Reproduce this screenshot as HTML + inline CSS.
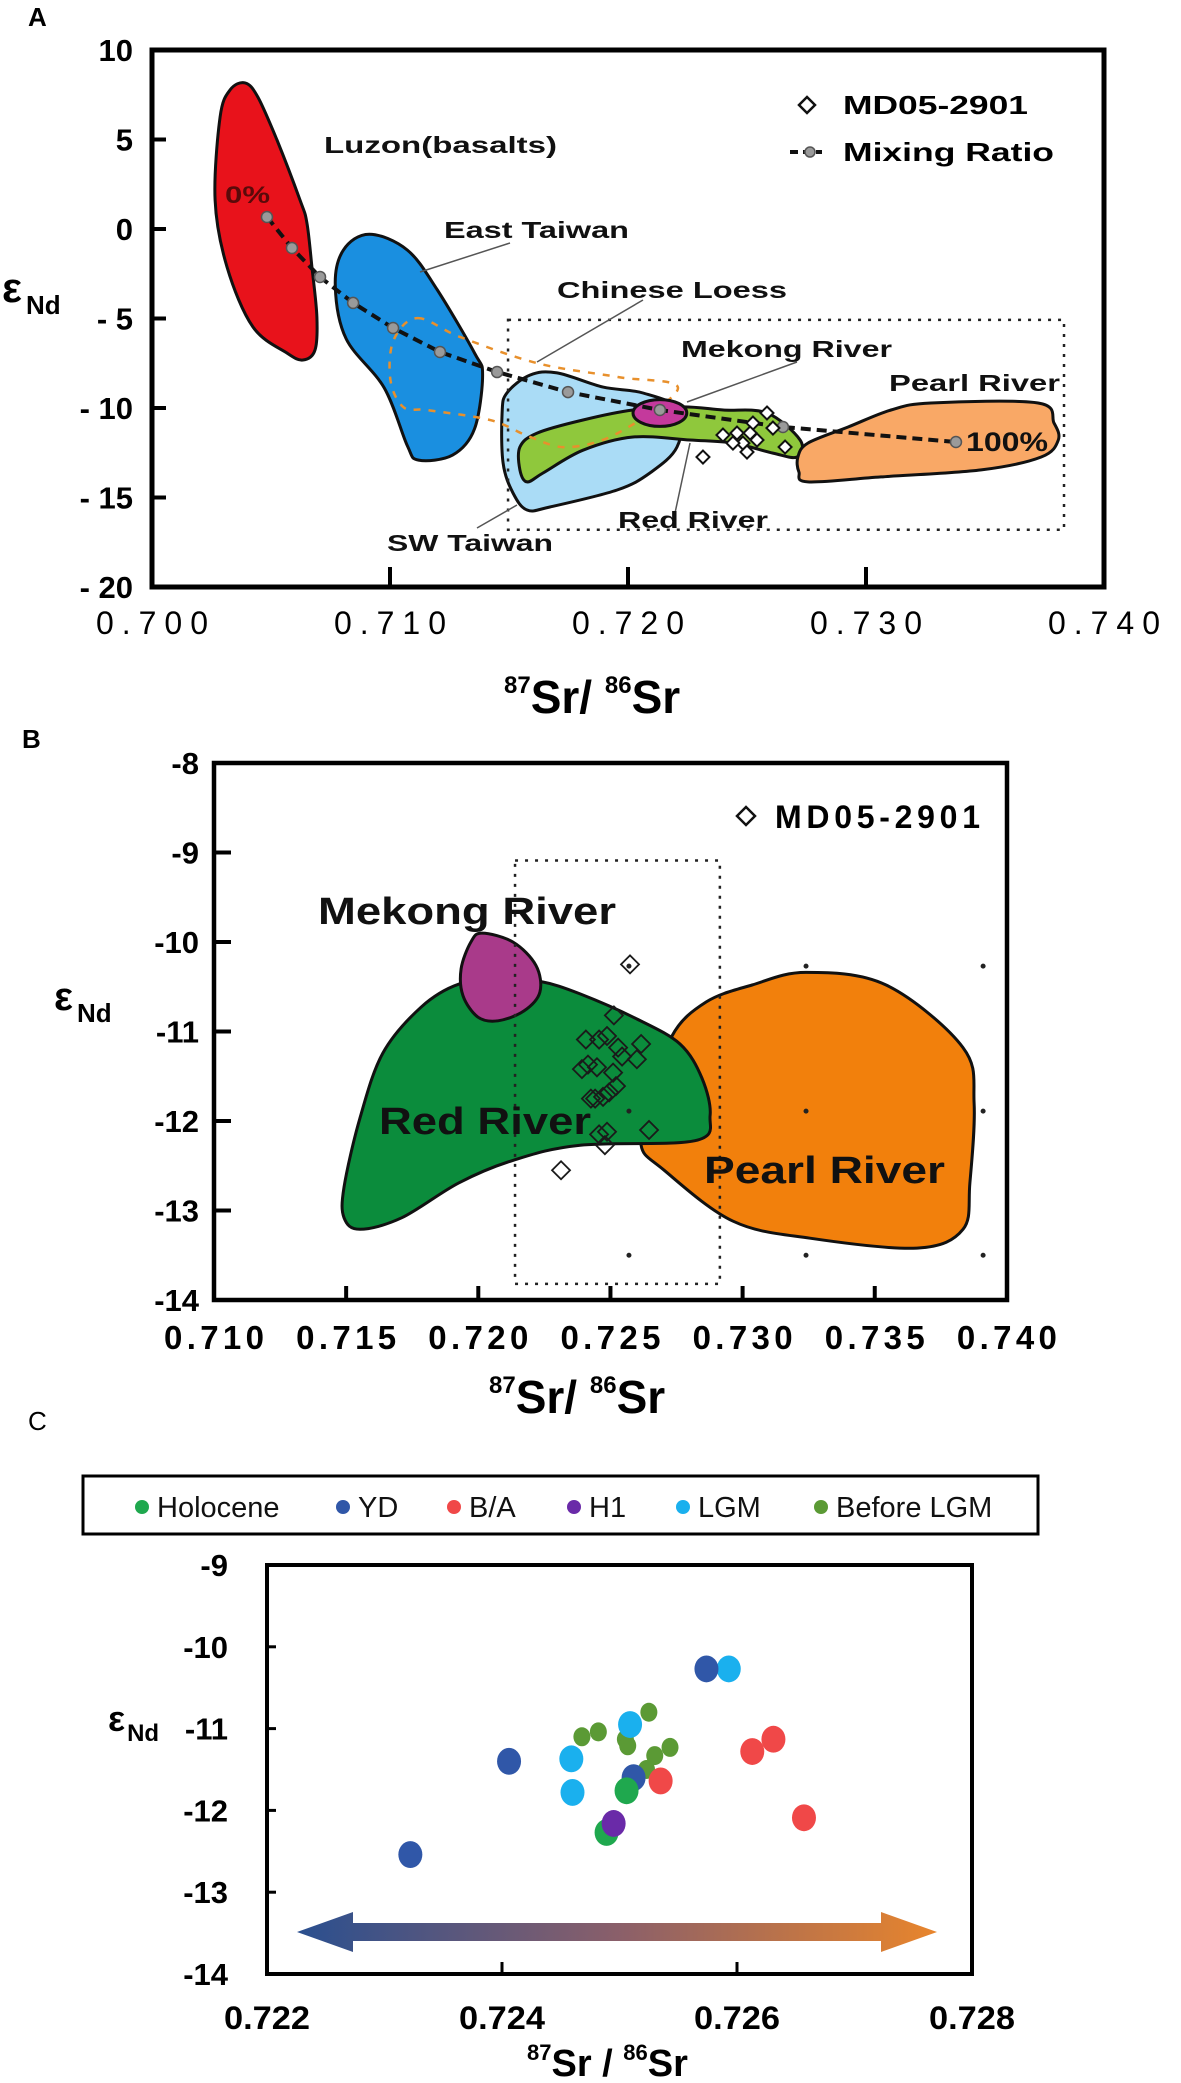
<!DOCTYPE html>
<html><head><meta charset="utf-8"><style>
html,body{margin:0;padding:0;background:#fff;}
svg{display:block;font-family:"Liberation Sans",Arial,sans-serif;}
</style></head><body>
<svg id="fig" xmlns="http://www.w3.org/2000/svg" width="1181" height="2083" viewBox="0 0 1181 2083">
<rect x="0" y="0" width="1181" height="2083" fill="#fff"/>
<text x="28" y="26" font-size="26" font-weight="bold">A</text>
<text x="22" y="748" font-size="26" font-weight="bold">B</text>
<text x="28" y="1430" font-size="26">C</text>
<g id="gA"></g>
<g id="gB"></g>
<g id="gC"></g>
</svg>
<script>
// ---------- Panel A data ----------
const aXTicks = [0.700, 0.710, 0.720, 0.730, 0.740];
const aXTickLabels = ["0.700","0.710","0.720","0.730","0.740"];
const aYTicks = [10, 5, 0, -5, -10, -15, -20];
const aYTickLabels = ["10","5","0","- 5","- 10","- 15","- 20"];
const aLuzonSr = [0.70391,0.70445,0.70525,0.70622,0.70651,0.70672,0.70693,0.70685,0.70634,0.70567,0.70424,0.70315,0.70265,0.70286,0.70328];
const aLuzonNd = [8.16,7.37,4.97,1.62,0.34,-2.12,-4.92,-6.76,-7.32,-6.93,-5.47,-2.12,1.62,6.26,7.77];
const aEastTwSr = [0.70913,0.71073,0.71199,0.71355,0.71389,0.71355,0.71263,0.71120,0.71073,0.70976,0.70816,0.70770,0.70804];
const aEastTwNd = [-0.29,-1.18,-3.41,-6.93,-8.16,-11.17,-12.63,-12.91,-12.12,-8.88,-6.14,-3.18,-1.18];
const aSwTwSr = [0.71491,0.71588,0.71702,0.71895,0.72063,0.72218,0.72206,0.72092,0.71954,0.71672,0.71576,0.71517,0.71475,0.71471];
const aSwTwNd = [-9.16,-8.16,-8.04,-8.83,-9.16,-10.11,-12.18,-13.63,-14.58,-15.53,-15.70,-14.75,-13.07,-10.28];
const aRedSr = [0.71546,0.71618,0.71811,0.72021,0.72231,0.72400,0.72584,0.72723,0.72710,0.72609,0.72441,0.72260,0.72021,0.71811,0.71643,0.71576,0.71546];
const aRedNd = [-12.18,-11.40,-10.67,-10.11,-9.94,-10.11,-10.28,-11.79,-12.74,-12.52,-11.96,-11.79,-11.62,-12.36,-13.63,-14.13,-13.46];
const aLoessSr = [0.71115,0.71296,0.71620,0.71957,0.72210,0.71957,0.71747,0.71591,0.71423,0.71158,0.71057,0.71002,0.71015];
const aLoessNd = [-4.98,-6.04,-7.50,-8.27,-8.89,-11.40,-12.19,-11.63,-10.68,-10.12,-9.96,-8.45,-6.21];
const aMekong = [0.72134, -10.28, 0.00113, 0.75];
const aPearlSr = [0.72714,0.72756,0.72925,0.73105,0.73273,0.73723,0.73790,0.73808,0.73736,0.73484,0.73063,0.72756,0.72718];
const aPearlNd = [-12.74,-11.96,-11.06,-10.11,-9.72,-9.72,-10.84,-11.79,-12.74,-13.46,-13.85,-14.13,-13.57];
const aMixSr = [0.70483,0.70588,0.70706,0.70845,0.71013,0.71210,0.71450,0.71748,0.72134,0.72651,0.73378];
const aMixNd = [0.67,-1.06,-2.68,-4.13,-5.53,-6.87,-7.99,-9.11,-10.11,-11.06,-11.90];
const aMdSr = [0.72584,0.72525,0.72609,0.72399,0.72458,0.72513,0.72483,0.72542,0.72441,0.72500,0.72660,0.72315];
const aMdNd = [-10.28,-10.84,-11.12,-11.51,-11.40,-11.40,-11.96,-11.79,-11.96,-12.46,-12.18,-12.74];
const aBox = [0.71496, -5.08, 0.73832, -16.8];

// ---------- Panel B data ----------
const bXTicks = [0.710,0.715,0.720,0.725,0.730,0.735,0.740];
const bXTickLabels = ["0.710","0.715","0.720","0.725","0.730","0.735","0.740"];
const bYTicks = [-8,-9,-10,-11,-12,-13,-14];
const bYTickLabels = ["-8","-9","-10","-11","-12","-13","-14"];
const bPearlSr = [0.72733,0.72862,0.73036,0.73240,0.73543,0.73834,0.73876,0.73860,0.73834,0.73660,0.73255,0.72964,0.72703,0.72616,0.72661];
const bPearlNd = [-11.05,-10.67,-10.48,-10.34,-10.48,-11.18,-11.80,-12.69,-13.21,-13.42,-13.31,-13.12,-12.55,-12.27,-11.80];
const bRedSr = [0.71927,0.71783,0.71639,0.71552,0.71492,0.71492,0.71552,0.71711,0.71927,0.72131,0.72385,0.72820,0.72877,0.72846,0.72763,0.72600,0.72385,0.72233,0.72082];
const bRedNd = [-10.47,-10.73,-11.24,-11.97,-12.74,-13.08,-13.21,-13.08,-12.69,-12.44,-12.27,-12.22,-11.94,-11.52,-11.14,-10.86,-10.58,-10.44,-10.42];
const bMekongSr = [0.72014,0.72131,0.72218,0.72233,0.72173,0.72075,0.71999,0.71942,0.71935,0.71972];
const bMekongNd = [-9.90,-10.00,-10.26,-10.56,-10.77,-10.88,-10.84,-10.60,-10.30,-10.00];
const bMdSr = [0.72574,0.72513,0.72487,0.72457,0.72529,0.72616,0.72544,0.72600,0.72415,0.72449,0.72510,0.72521,0.72495,0.72442,0.72472,0.72646,0.72487,0.72479,0.72407,0.72392,0.72426,0.72457,0.72313];
const bMdNd = [-10.25,-10.82,-11.05,-11.09,-11.18,-11.14,-11.28,-11.31,-11.37,-11.40,-11.46,-11.61,-11.68,-11.75,-11.73,-12.10,-12.12,-12.27,-11.09,-11.42,-11.75,-12.15,-12.55];
const bGridSr = [0.7257, 0.7324, 0.7391];
const bGridNd = [-10.27, -11.89, -13.5];
const bBox = [0.72139, -9.09, 0.72914, -13.82];

// ---------- Panel C data ----------
const cXTicks = [0.722,0.724,0.726,0.728];
const cXTickLabels = ["0.722","0.724","0.726","0.728"];
const cYTicks = [-9,-10,-11,-12,-13,-14];
const cYTickLabels = ["-9","-10","-11","-12","-13","-14"];
const cSeriesNames = ["Holocene","YD","B/A","H1","LGM","Before LGM"];
const cHoloSr = [0.72489,0.72506];
const cHoloNd = [-12.27,-11.76];
const cYdSr = [0.72322,0.72406,0.72574,0.72512];
const cYdNd = [-12.54,-11.40,-10.27,-11.60];
const cBaSr = [0.72631,0.72613,0.72535,0.72657];
const cBaNd = [-11.13,-11.28,-11.64,-12.09];
const cH1Sr = [0.72495];
const cH1Nd = [-12.16];
const cLgmSr = [0.72593,0.72509,0.72459,0.72460];
const cLgmNd = [-10.27,-10.95,-11.37,-11.78];
const cBlgmSr = [0.72525,0.72482,0.72468,0.72505,0.72507,0.72543,0.72530,0.72523];
const cBlgmNd = [-10.80,-11.04,-11.10,-11.13,-11.21,-11.23,-11.33,-11.50];

const NS = "http://www.w3.org/2000/svg";
function mk(tag, attrs, parent){
  const e = document.createElementNS(NS, tag);
  for (const k in attrs) e.setAttribute(k, attrs[k]);
  parent.appendChild(e);
  return e;
}
function smooth(pts){
  const n = pts.length; let d = "M" + pts[0][0].toFixed(1) + "," + pts[0][1].toFixed(1);
  for (let i=0;i<n;i++){
    const p0=pts[(i-1+n)%n], p1=pts[i], p2=pts[(i+1)%n], p3=pts[(i+2)%n];
    const c1=[p1[0]+(p2[0]-p0[0])/6, p1[1]+(p2[1]-p0[1])/6];
    const c2=[p2[0]-(p3[0]-p1[0])/6, p2[1]-(p3[1]-p1[1])/6];
    d += " C"+c1[0].toFixed(1)+","+c1[1].toFixed(1)+" "+c2[0].toFixed(1)+","+c2[1].toFixed(1)+" "+p2[0].toFixed(1)+","+p2[1].toFixed(1);
  }
  return d + "Z";
}
function pts(xs, ys, fx, fy){ return xs.map((v,i)=>[fx(v), fy(ys[i])]); }
function txt(parent, x, y, s, size, opts){
  const t = mk("text", {x:x, y:y, "font-size":size}, parent);
  if (opts) for (const k in opts) t.setAttribute(k, opts[k]);
  t.textContent = s;
  return t;
}
function diamond(cx, cy, r){ return "M"+cx+","+(cy-r)+" L"+(cx+r)+","+cy+" L"+cx+","+(cy+r)+" L"+(cx-r)+","+cy+"Z"; }

// ================= PANEL A =================
const gA = document.getElementById("gA");
const ax = v => 152 + (v - 0.700) * 23800;
const ay = e => 50 + (10 - e) * 17.9;
let el;
el = mk("path", {d: smooth(pts(aLuzonSr,aLuzonNd,ax,ay)), fill:"#e8121b", stroke:"#111", "stroke-width":3}, gA);


el = mk("path", {d: smooth(pts(aEastTwSr,aEastTwNd,ax,ay)), fill:"#1a8fe0", stroke:"#111", "stroke-width":3}, gA);


el = mk("path", {d: smooth(pts(aSwTwSr,aSwTwNd,ax,ay)), fill:"#aadcf6", stroke:"#111", "stroke-width":3}, gA);


el = mk("path", {d: smooth(pts(aRedSr,aRedNd,ax,ay)), fill:"#8fc83c", stroke:"#111", "stroke-width":3}, gA);


el = mk("path", {d: smooth(pts(aLoessSr,aLoessNd,ax,ay)), fill:"none", stroke:"#e8902c", "stroke-width":2.5, "stroke-dasharray":"7 8"}, gA);


el = mk("ellipse", {cx: ax(aMekong[0]), cy: ay(aMekong[1]), rx: aMekong[2]*23800, ry: aMekong[3]*17.9, fill:"#c4399c", stroke:"#111", "stroke-width":3}, gA);


el = mk("path", {d: smooth(pts(aPearlSr,aPearlNd,ax,ay)), fill:"#f9a866", stroke:"#111", "stroke-width":3}, gA);


el = mk("rect", {x: ax(aBox[0]), y: ay(aBox[1]), width: ax(aBox[2])-ax(aBox[0]), height: ay(aBox[3])-ay(aBox[1]), fill:"none", stroke:"#222", "stroke-width":2.5, "stroke-dasharray":"3 7"}, gA);


el = mk("path", {d: "M" + pts(aMixSr,aMixNd,ax,ay).map(p=>p[0].toFixed(1)+","+p[1].toFixed(1)).join(" L"), fill:"none", stroke:"#111", "stroke-width":4, "stroke-dasharray":"10 6"}, gA);


aMixSr.forEach((v,i)=>{
  const c = mk("circle", {cx: ax(v), cy: ay(aMixNd[i]), r:5.5, fill:"#9a9a9a", stroke:"#555", "stroke-width":1.5}, gA);
  
  
});
aMdSr.forEach((v,i)=>{
  const d = mk("path", {d: diamond(ax(v), ay(aMdNd[i]), 6.5), fill:"#fff", stroke:"#111", "stroke-width":2}, gA);
  
  
});
[[510,243,420,272],[643,300,537,362],[797,362,687,402],[690,443,675,513],[517,505,477,528]].forEach(l=>{
  const ln = mk("line", {x1:l[0], y1:l[1], x2:l[2], y2:l[3], stroke:"#555", "stroke-width":1.5}, gA);
  
  
});
[["Luzon(basalts)",324,153,233,"luzon-label"],["East Taiwan",444,238,185,"east-taiwan-label"],["Chinese Loess",557,298,230,"chinese-loess-label"],["Mekong River",681,357,211,"mekong-river-label"],["Pearl River",889,391,171,"pearl-river-label"],["Red River",618,528,150,"red-river-label"],["SW Taiwan",387,551,166,"sw-taiwan-label"]].forEach(L=>{
  const t = txt(gA, L[1], L[2], L[0], 23, {"font-weight":"bold", fill:"#111", textLength:L[3], lengthAdjust:"spacingAndGlyphs"});
  
  
});
el = txt(gA, 225, 203, "0%", 24, {"font-weight":"bold", fill:"#5a0a0a", textLength:45, lengthAdjust:"spacingAndGlyphs"});


el = txt(gA, 966, 451, "100%", 27, {"font-weight":"bold", fill:"#111", textLength:82, lengthAdjust:"spacingAndGlyphs"});


el = mk("path", {d: diamond(807,105,8), fill:"#fff", stroke:"#111", "stroke-width":2.5}, gA);


el = txt(gA, 843, 114, "MD05-2901", 26, {"font-weight":"bold", textLength:185, lengthAdjust:"spacingAndGlyphs"});


el = mk("line", {x1:790, y1:152, x2:822, y2:152, stroke:"#111", "stroke-width":4, "stroke-dasharray":"8 5"}, gA);


el = mk("circle", {cx:810, cy:152, r:5, fill:"#9a9a9a", stroke:"#555", "stroke-width":1.5}, gA);


el = txt(gA, 843, 161, "Mixing Ratio", 26, {"font-weight":"bold", textLength:211, lengthAdjust:"spacingAndGlyphs"});


el = mk("rect", {x:152, y:50, width:952, height:537, fill:"none", stroke:"#000", "stroke-width":5}, gA);


aYTicks.forEach((v,i)=>{
  const y = ay(v);
  const tk = mk("line", {x1:152, y1:y, x2:166, y2:y, stroke:"#000", "stroke-width":4}, gA);
  
  
  const t = txt(gA, 133, y+11, aYTickLabels[i], 31, {"font-weight":"bold", "text-anchor":"end"});
  
  
});
aXTicks.forEach((v,i)=>{
  const x = ax(v);
  if (i>0 && i<aXTicks.length-1){
    const tk = mk("line", {x1:x, y1:587, x2:x, y2:567, stroke:"#000", "stroke-width":4}, gA);
    
    
  }
  const t = txt(gA, x, 634, aXTickLabels[i], 32, {"text-anchor":"middle", textLength:112});
  
  
});
el = mk("text", {x:2, y:302, "font-size":42, "font-weight":"bold"}, gA);
el.innerHTML = 'ε<tspan font-size="26" dx="4" dy="12">Nd</tspan>';


el = mk("text", {x:504, y:713, "font-size":46, "font-weight":"bold"}, gA);
el.innerHTML = '<tspan font-size="24" dy="-20">87</tspan><tspan dy="20">Sr/ </tspan><tspan font-size="24" dy="-20">86</tspan><tspan dy="20">Sr</tspan>';



// ================= PANEL B =================
const gB = document.getElementById("gB");
const bx = v => 214 + (v - 0.710) * 26430;
const by = e => 763 + (-8 - e) * 89.5;
el = mk("path", {d: smooth(pts(bPearlSr,bPearlNd,bx,by)), fill:"#f2800c", stroke:"#111", "stroke-width":3}, gB);


el = mk("path", {d: smooth(pts(bRedSr,bRedNd,bx,by)), fill:"#0b8c3c", stroke:"#111", "stroke-width":3}, gB);


el = mk("path", {d: smooth(pts(bMekongSr,bMekongNd,bx,by)), fill:"#a93a8a", stroke:"#111", "stroke-width":3}, gB);


bGridSr.forEach(v=>{ bGridNd.forEach(e=>{
  const d = mk("circle", {cx:bx(v), cy:by(e), r:2.5, fill:"#222"}, gB);
  
  
});});
el = mk("rect", {x: bx(bBox[0]), y: by(bBox[1]), width: bx(bBox[2])-bx(bBox[0]), height: by(bBox[3])-by(bBox[1]), fill:"none", stroke:"#222", "stroke-width":2.5, "stroke-dasharray":"3 7"}, gB);


bMdSr.forEach((v,i)=>{
  const d = mk("path", {d: diamond(bx(v), by(bMdNd[i]), 9), fill:"none", stroke:"#1a1a1a", "stroke-width":1.8}, gB);
  
  
});
[["Mekong River",318,924,298,"mekong-river-label"],["Red River",379,1134,212,"red-river-label"],["Pearl River",704,1183,241,"pearl-river-label"]].forEach(L=>{
  const t = txt(gB, L[1], L[2], L[0], 38, {"font-weight":"bold", fill:"#111", textLength:L[3], lengthAdjust:"spacingAndGlyphs"});
  
  
});
el = mk("path", {d: diamond(746,816,9), fill:"#fff", stroke:"#111", "stroke-width":2.5}, gB);


el = txt(gB, 775, 828, "MD05-2901", 32, {"font-weight":"bold", textLength:205});


el = mk("rect", {x:214, y:763, width:793, height:537, fill:"none", stroke:"#000", "stroke-width":4.5}, gB);


bYTicks.forEach((v,i)=>{
  const y = by(v);
  const tk = mk("line", {x1:214, y1:y, x2:231, y2:y, stroke:"#000", "stroke-width":4}, gB);
  
  
  const t = txt(gB, 199, y+11, bYTickLabels[i], 31, {"font-weight":"bold", "text-anchor":"end"});
  
  
});
bXTicks.forEach((v,i)=>{
  const x = bx(v);
  if (i>0 && i<bXTicks.length-1){
    const tk = mk("line", {x1:x, y1:1300, x2:x, y2:1286, stroke:"#000", "stroke-width":4}, gB);
    
    
  }
  const t = txt(gB, x, 1349, bXTickLabels[i], 33, {"font-weight":"bold", "text-anchor":"middle", textLength:100});
  
  
});
el = mk("text", {x:54, y:1010, "font-size":40, "font-weight":"bold"}, gB);
el.innerHTML = 'ε<tspan font-size="26" dx="4" dy="12">Nd</tspan>';


el = mk("text", {x:489, y:1413, "font-size":46, "font-weight":"bold"}, gB);
el.innerHTML = '<tspan font-size="24" dy="-20">87</tspan><tspan dy="20">Sr/ </tspan><tspan font-size="24" dy="-20">86</tspan><tspan dy="20">Sr</tspan>';



// ================= PANEL C =================
const gC = document.getElementById("gC");
const cx = v => 267 + (v - 0.722) * 117500;
const cy = e => 1565 + (-9 - e) * 81.8;
const cColors = ["#1fa84e","#3057a8","#f04848","#6a2aa8","#1ab0ee","#5b9a35"];
const legX = [142, 343, 454, 574, 683, 821];
el = mk("rect", {x:83, y:1476, width:955, height:58, fill:"#fff", stroke:"#000", "stroke-width":3}, gC);


cSeriesNames.forEach((n,i)=>{
  const d = mk("circle", {cx:legX[i], cy:1507, r:7, fill:cColors[i]}, gC);
  
  
  const t = txt(gC, legX[i]+15, 1517, n, 29, {fill:"#111"});
  
  
});
const defs = mk("defs", {}, gC);
const grad = mk("linearGradient", {id:"arrGrad", x1:"0", x2:"1", y1:"0", y2:"0"}, defs);
mk("stop", {offset:"0", "stop-color":"#2a4f8f"}, grad);
mk("stop", {offset:"0.5", "stop-color":"#8a5f6a"}, grad);
mk("stop", {offset:"1", "stop-color":"#e8852c"}, grad);
el = mk("path", {d:"M297,1932 L353,1912 L353,1923 L881,1923 L881,1912 L937,1932 L881,1952 L881,1941 L353,1941 L353,1952 Z", fill:"url(#arrGrad)"}, gC);


const cSeries = [[cBlgmSr,cBlgmNd,5,8.5],[cLgmSr,cLgmNd,4,12],[cYdSr,cYdNd,1,12],[cBaSr,cBaNd,2,12],[cHoloSr,cHoloNd,0,12],[cH1Sr,cH1Nd,3,12]];
cSeries.forEach(s=>{
  s[0].forEach((v,i)=>{
    const d = mk("ellipse", {cx:cx(v), cy:cy(s[1][i]), rx:s[3], ry:s[3]*1.12, fill:cColors[s[2]]}, gC);
    
    
  });
});
el = mk("rect", {x:267, y:1565, width:705, height:409, fill:"none", stroke:"#000", "stroke-width":4}, gC);


cYTicks.forEach((v,i)=>{
  const y = cy(v);
  if (i>0 && i<cYTicks.length-1){
    const tk = mk("line", {x1:267, y1:y, x2:276, y2:y, stroke:"#000", "stroke-width":3}, gC);
    
    
  }
  const t = txt(gC, 228, y+11, cYTickLabels[i], 31, {"text-anchor":"end", "font-weight":"bold"});
  
  
});
cXTicks.forEach((v,i)=>{
  const x = cx(v);
  if (i>0 && i<cXTicks.length-1){
    const tk = mk("line", {x1:x, y1:1974, x2:x, y2:1962, stroke:"#000", "stroke-width":3}, gC);
    
    
  }
  const t = txt(gC, x, 2029, cXTickLabels[i], 32, {"text-anchor":"middle", "font-weight":"bold", textLength:86, lengthAdjust:"spacingAndGlyphs"});
  
  
});
el = mk("text", {x:108, y:1731, "font-size":36, "font-weight":"bold"}, gC);
el.innerHTML = 'ε<tspan font-size="24" dx="2" dy="10">Nd</tspan>';


el = mk("text", {x:527, y:2076, "font-size":38, "font-weight":"bold"}, gC);
el.innerHTML = '<tspan font-size="22" dy="-16">87</tspan><tspan dy="16">Sr / </tspan><tspan font-size="22" dy="-16">86</tspan><tspan dy="16">Sr</tspan>';


</script>
</body></html>
